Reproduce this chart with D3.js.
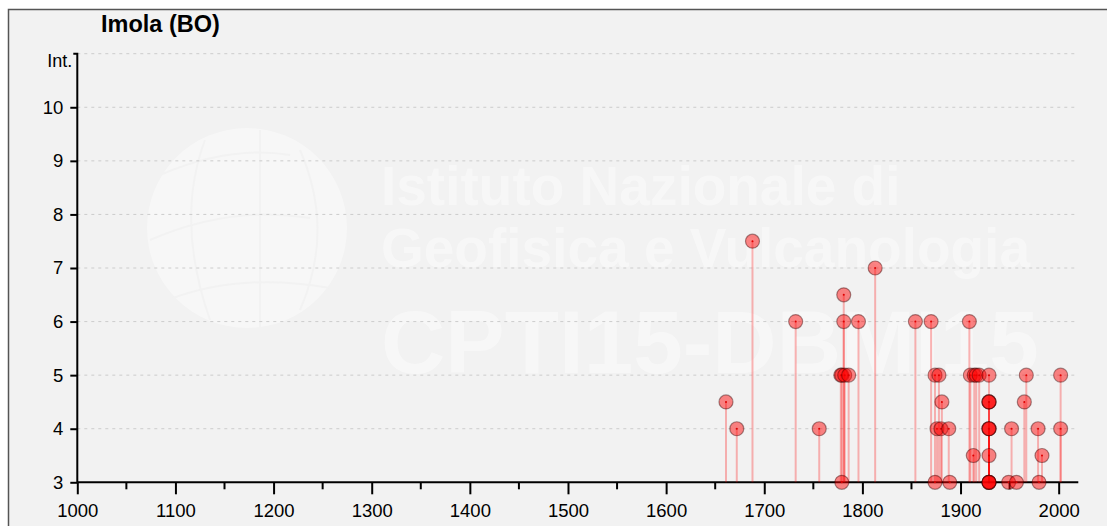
<!DOCTYPE html>
<html>
<head>
<meta charset="utf-8">
<script src="https://cdn.jsdelivr.net/npm/d3@7"></script>
<style>
  body { margin: 0; background: #fff; }
  svg { display: block; font-family: "Liberation Sans", Arial, sans-serif; }
</style>
</head>
<body>
<div id="chart"></div>
<script>
// earthquake years and felt intensities at Imola (BO)
const years = [
  1661, 1672, 1688, 1732, 1756,
  1779, 1778, 1779, 1782, 1781, 1781, 1786, 1796, 1813,
  1854, 1870, 1874, 1878, 1881, 1876, 1880, 1888, 1874, 1889,
  1909, 1910, 1914, 1916, 1919, 1913,
  1929, 1929, 1929, 1929, 1929, 1929, 1929, 1929, 1929, 1929, 1929, 1929,
  1952, 1949, 1957, 1965, 1967, 1979, 1980, 1983, 2002, 2002
];
const intensities = [
  4.5, 4, 7.5, 6, 4,
  3, 5, 5, 5, 6.5, 6, 5, 6, 7,
  6, 6, 5, 5, 4.5, 4, 4, 4, 3, 3,
  6, 5, 5, 5, 5, 3.5,
  5, 4.5, 4.5, 4.5, 4, 4, 4, 3.5, 3, 3, 3, 3,
  4, 3, 3, 4.5, 5, 4, 3, 3.5, 5, 4
];
const yTicks = [3, 4, 5, 6, 7, 8, 9, 10];
const xMajor = d3.range(1000, 2001, 100);
const xMinor = d3.range(1050, 2001, 100);
const title = "Imola (BO)";
const watermark = ["Istituto Nazionale di", "Geofisica e Vulcanologia", "CPTI15-DBMI15"];

const width = 1107, height = 526;
const m = {left: 77.3, right: 1078.3, top: 53.7, bottom: 482.3};

const svg = d3.select("#chart").append("svg").attr("width", width).attr("height", height);

// panel
svg.append("rect")
  .attr("x", 8.5).attr("y", 9.5).attr("width", 1200).attr("height", 600)
  .attr("fill", "#f2f2f2").attr("stroke", "#555").attr("stroke-width", 1.5);

const x = d3.scaleLinear().domain([1000, 2020]).range([m.left, m.right]);
const y = d3.scaleLinear().domain([3, 11]).range([m.bottom, m.top]);

// watermark (logo globe + text)
const wm = svg.append("g").attr("class", "watermark");
wm.append("circle").attr("cx", 247).attr("cy", 228).attr("r", 100)
  .attr("fill", "#fff").attr("opacity", 0.4);
const globeLines = wm.append("g").attr("fill", "none").attr("stroke", "#f2f2f2").attr("stroke-width", 2);
globeLines.append("path").attr("d", "M160,175 Q230,145 290,155 M150,240 Q230,205 310,218 M168,300 Q240,272 330,288");
globeLines.append("path").attr("d", "M205,140 Q175,220 210,320 M260,130 L260,330 M300,150 Q335,230 300,310");
wm.selectAll("text").data(watermark).join("text")
  .attr("x", 381)
  .attr("y", (d, i) => [205, 267, 373][i])
  .attr("font-size", (d, i) => i < 2 ? 55 : 89)
  .attr("font-weight", "bold")
  .attr("fill", "#fff").attr("opacity", 0.42)
  .text(d => d);

// grid
svg.append("g").selectAll("line").data(d3.range(4, 12)).join("line")
  .attr("x1", m.left).attr("x2", m.right)
  .attr("y1", d => y(d)).attr("y2", d => y(d))
  .attr("stroke", "#ccc").attr("stroke-width", 1).attr("stroke-dasharray", "3,4");

// title
svg.append("text").attr("x", 101).attr("y", 32)
  .attr("font-size", 23.5).attr("font-weight", "bold").attr("fill", "#000")
  .text(title);

// axes
const xAxis = d3.axisBottom(x).tickValues(xMajor).tickSize(12).tickFormat(d3.format("d"));
const gx = svg.append("g").attr("transform", `translate(0,${m.bottom})`).call(xAxis);
gx.select(".domain").attr("d", `M${m.left},0H${m.right}`).attr("stroke-width", 2);
gx.selectAll(".tick line").attr("stroke-width", 2);
gx.selectAll(".tick text").attr("font-size", 18.5).attr("font-family", "Liberation Sans, Arial")
  .attr("fill", "#000").attr("y", 35).attr("dy", 0);
gx.selectAll(".minor").data(xMinor).join("line").attr("class", "minor")
  .attr("x1", d => x(d)).attr("x2", d => x(d)).attr("y1", 0).attr("y2", 7)
  .attr("stroke", "#000").attr("stroke-width", 2);

const yAxis = d3.axisLeft(y).tickValues(yTicks).tickSize(7).tickPadding(7);
const gy = svg.append("g").attr("transform", `translate(${m.left},0)`).call(yAxis);
gy.select(".domain").attr("d", `M-4,${m.top}H0V${m.bottom}`).attr("stroke-width", 2);
gy.selectAll(".tick line").attr("stroke-width", 2);
gy.selectAll(".tick text").attr("font-size", 18.5).attr("font-family", "Liberation Sans, Arial").attr("fill", "#000");
gy.append("text").attr("x", -5).attr("y", m.top).attr("dy", "0.75em")
  .attr("text-anchor", "end").attr("font-size", 18).attr("fill", "#000").text("Int.");

// events
const events = years.map((yr, i) => ({year: yr, int: intensities[i]}));

svg.append("g").selectAll("line").data(events).join("line")
  .attr("x1", d => x(d.year)).attr("x2", d => x(d.year))
  .attr("y1", d => y(d.int)).attr("y2", y(3))
  .attr("stroke", "red").attr("stroke-opacity", 0.28).attr("stroke-width", 2);

const pts = svg.append("g").selectAll("g").data(events).join("g")
  .attr("transform", d => `translate(${x(d.year)},${y(d.int)})`);
pts.append("circle").attr("r", 7)
  .attr("fill", "red").attr("fill-opacity", 0.47)
  .attr("stroke", "#300").attr("stroke-opacity", 0.42).attr("stroke-width", 1.2);
pts.append("circle").attr("r", 1).attr("fill", "#d00");
</script>
</body>
</html>
